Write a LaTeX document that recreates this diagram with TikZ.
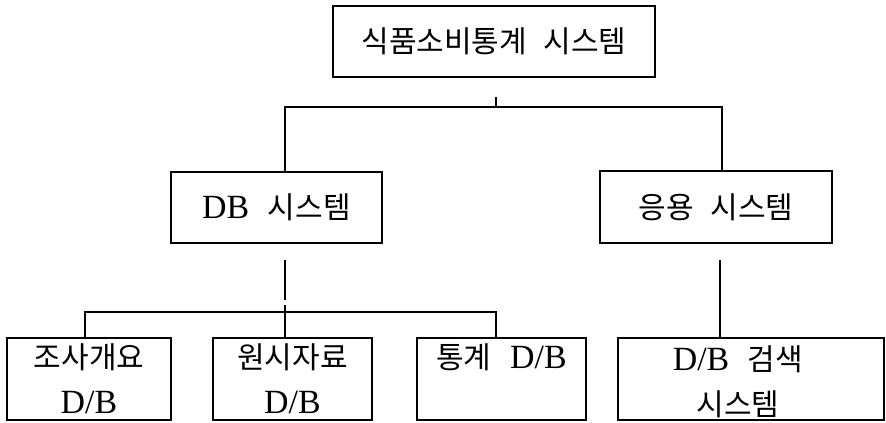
\documentclass[tikz,border=0pt]{standalone}
\usepackage{fontspec}
\setmainfont{Liberation Serif}[Scale=1.13]
\newfontfamily\kr{Noto Sans CJK KR}
\newcommand{\wsp}{\hspace{0.55em}}
\begin{document}
\begin{tikzpicture}[x=1bp,y=-1bp,
  box/.style={draw, line width=1.2bp, inner sep=0pt, align=center,
    font=\fontsize{30bp}{45bp}\selectfont},
  lbl/.style={inner sep=0pt, align=center, font=\fontsize{30bp}{45bp}\selectfont},
  conn/.style={line width=1.2bp}]
\useasboundingbox (0,0) rectangle (886,422);
% boxes
\node[box, minimum width=322bp, minimum height=71bp] (top) at (494,41.5) {\kr 식품소비통계\wsp 시스템};
\node[box, minimum width=211bp, minimum height=71bp] (db) at (276.5,207.5) {DB\wsp{\kr 시스템}};
\node[box, minimum width=232bp, minimum height=72bp] (app) at (716,207) {\kr 응용\wsp 시스템};
\node[box, minimum width=164bp, minimum height=82bp] (b1) at (89,379) {{\kr 조사개요}\\D/B};
\node[box, minimum width=159bp, minimum height=82bp] (b2) at (292.5,379) {{\kr 원시자료}\\D/B};
\node[box, minimum width=169bp, minimum height=82bp] (b3) at (501.5,379) {{\kr 통계}\wsp D/B\\\mbox{}};
\node[box, minimum width=266bp, minimum height=82bp] (b4) at (751,379) {};
\node[lbl] (b4t) at (738,382) {D/B\wsp{\kr 검색}\\{\kr 시스템}};
% connector coordinates
\coordinate (ts) at (496,97);
\coordinate (tj) at (496,107);
\coordinate (hl) at (285,107);
\coordinate (hr) at (722,107);
\coordinate (ds) at (285,260);
\coordinate (de) at (285,300);
\coordinate (bl) at (85,312);
\coordinate (bm) at (285,312);
\coordinate (bmt) at (285,305);
\coordinate (br) at (496,312);
\coordinate (as) at (720,260);
% connectors
\draw[conn] (ts) -- (tj);
\draw[conn] (hl |- db.north) -- (hl) -- (hr) -- (hr |- app.north);
\draw[conn] (ds) -- (de);
\draw[conn] (bl |- b1.north) -- (bl) -- (br) -- (br |- b3.north);
\draw[conn] (bmt) -- (bm |- b2.north);
\draw[conn] (as) -- (as |- b4.north);
\end{tikzpicture}
\end{document}
